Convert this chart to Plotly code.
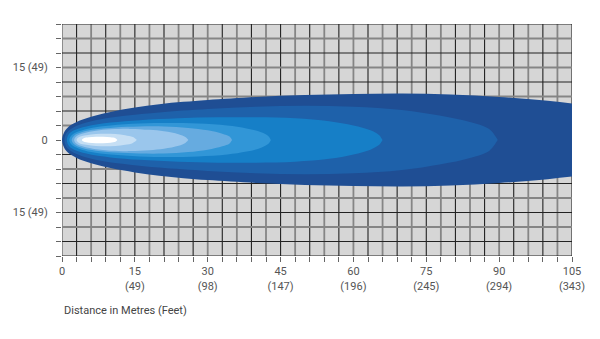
import plotly.graph_objects as go

# ---- Data: beam contour layers (x in metres, half-width in metres) ----
layer_colors = ["#1f4e94", "#1e61aa", "#167fc7", "#3196d7", "#66abe0", "#9ac6ec", "#c6dff4", "#ffffff"]

l1_x = [0, 0.4, 1.2, 3, 6, 10, 15, 20, 25, 30, 40, 50, 60, 70, 80, 90, 100, 110, 120, 128, 132]
l1_h = [0, 1.5, 2.6, 3.7, 4.8, 5.8, 6.7, 7.4, 7.9, 8.3, 8.9, 9.3, 9.5, 9.6, 9.4, 8.9, 8.1, 6.9, 5.0, 2.8, 0]

l2_x = [0.5, 0.9, 2, 4, 8, 14, 20, 30, 40, 50, 60, 70, 78, 84, 88, 89.7]
l2_h = [0, 1.4, 2.4, 3.3, 4.3, 5.1, 5.7, 6.4, 6.9, 7.1, 6.9, 6.2, 5.0, 3.7, 2.2, 0]

l3_x = [1, 1.4, 2.5, 5, 10, 16, 24, 32, 40, 48, 55, 60, 63.5, 65.3, 66]
l3_h = [0, 1.2, 2.0, 2.8, 3.6, 4.1, 4.5, 4.7, 4.7, 4.5, 3.9, 3.0, 2.0, 1.0, 0]

l4_x = [1.5, 2, 3.5, 6, 10, 16, 22, 28, 34, 38, 41, 42.5, 43]
l4_h = [0, 1.0, 1.8, 2.5, 3.0, 3.4, 3.5, 3.4, 3.0, 2.4, 1.6, 0.8, 0]

l5_x = [2, 2.5, 4, 7, 11, 16, 21, 26, 30, 33, 34.5, 35]
l5_h = [0, 0.9, 1.6, 2.2, 2.6, 2.8, 2.8, 2.5, 2.0, 1.3, 0.7, 0]

l6_x = [2.5, 3, 4.5, 7, 10, 14, 18, 21, 24, 25.4, 26]
l6_h = [0, 0.8, 1.4, 1.9, 2.2, 2.3, 2.1, 1.8, 1.2, 0.6, 0]

l7_x = [3, 3.5, 5, 7, 9, 11, 13, 14.6, 15.4]
l7_h = [0, 0.6, 1.0, 1.25, 1.3, 1.25, 1.0, 0.6, 0]

l8_x = [4.1, 4.5, 5.5, 7, 8.5, 10, 11, 11.4]
l8_h = [0, 0.35, 0.55, 0.65, 0.65, 0.55, 0.35, 0]

layers = [(l1_x, l1_h), (l2_x, l2_h), (l3_x, l3_h), (l4_x, l4_h),
          (l5_x, l5_h), (l6_x, l6_h), (l7_x, l7_h), (l8_x, l8_h)]

# ---- Axis labels ----
x_tickvals = [0, 15, 30, 45, 60, 75, 90, 105]
x_ticktext = ["0", "15<br>(49)", "30<br>(98)", "45<br>(147)", "60<br>(196)",
              "75<br>(245)", "90<br>(294)", "105<br>(343)"]
y_tickvals = [-15, 0, 15]
y_ticktext = ["15 (49)", "0", "15 (49)"]

grid_x = list(range(0, 106, 3))
grid_y = list(range(-24, 25, 3))
grid_y_black = [24, 18, 12, 6, 0, -3, -9, -15, -21, -24]

fig = go.Figure()
for (xs, hs), col in zip(layers, layer_colors):
    px = list(xs) + list(xs[::-1])
    py = list(hs) + [-h for h in hs[::-1]]
    fig.add_trace(go.Scatter(x=px, y=py, fill="toself", fillcolor=col,
                             mode="lines", line=dict(width=0, color=col, shape="spline", smoothing=1.0),
                             hoverinfo="skip", showlegend=False))

shapes = []
for i, gx in enumerate(grid_x):
    black = (i % 2 == 1)
    shapes.append(dict(type="line", xref="x", yref="paper", x0=gx, x1=gx, y0=0, y1=1,
                       layer="between",
                       line=dict(color="#222222" if black else "#858585", width=1.1 if black else 1.8)))
for gy in grid_y:
    black = gy in grid_y_black
    shapes.append(dict(type="line", xref="paper", yref="y", x0=0, x1=1, y0=gy, y1=gy,
                       layer="between",
                       line=dict(color="#222222" if black else "#858585", width=1.1 if black else 1.8)))

fig.update_layout(
    width=600, height=339,
    margin=dict(l=62, r=28, t=24, b=83),
    paper_bgcolor="white", plot_bgcolor="#d6d6d6",
    font=dict(family="Roboto", size=11, color="#555555"),
    shapes=shapes,
    showlegend=False,
    annotations=[dict(text="Distance in Metres (Feet)", xref="paper", yref="paper",
                      x=0, y=-0.2, xanchor="left", yanchor="top", showarrow=False,
                      font=dict(family="Roboto", size=11, color="#444444"))],
)
fig.update_xaxes(range=[0, 105], tickvals=x_tickvals, ticktext=x_ticktext,
                 showgrid=False, zeroline=False, showline=False,
                 ticks="outside", ticklen=5, tickcolor="#666666",
                 minor=dict(tickvals=grid_x, ticks="outside", ticklen=5, tickcolor="#666666", showgrid=False),
                 fixedrange=True)
fig.update_yaxes(range=[-24, 24], tickvals=y_tickvals, ticktext=y_ticktext,
                 showgrid=False, zeroline=False, showline=False,
                 ticks="outside", ticklen=5, tickcolor="#666666", ticklabelstandoff=6,
                 minor=dict(tickvals=grid_y, ticks="outside", ticklen=5, tickcolor="#666666", showgrid=False),
                 fixedrange=True)

fig.write_html("out.html")
